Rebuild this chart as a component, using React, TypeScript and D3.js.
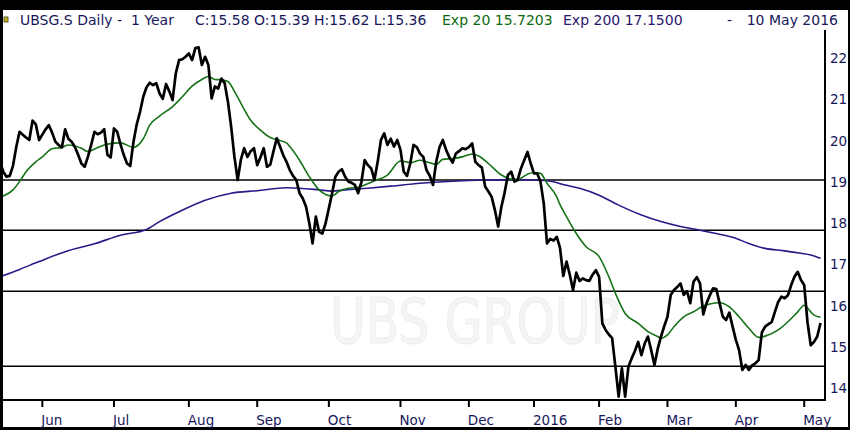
import * as d3 from "d3";

// daily closes, 11 May 2015 .. 10 May 2016 (SIX trading days)
const closes = [
  19.49, 19.25, 19.13, 19.15, 19.4, 19.85, 20.22, 20.15, 20.08, 20.02,
  20.49, 20.4, 20.02, 20.15, 20.28, 20.38, 20.2, 19.98, 19.9, 19.84,
  20.28, 20.05, 19.98, 19.85, 19.66, 19.45, 19.37, 19.61, 19.9, 20.22,
  20.16, 20.2, 20.28, 19.66, 19.6, 20.3, 20.22, 19.92, 19.66, 19.45,
  19.39, 19.98, 20.4, 20.7, 21.07, 21.3, 21.41, 21.35, 21.4, 21.15,
  21.02, 21.38, 21.2, 20.99, 21.64, 21.96, 21.98, 22.04, 22.12, 21.96,
  22.25, 22.27, 21.84, 22.04, 21.84, 21.03, 21.32, 21.27, 21.51, 21.4,
  20.95, 20.34, 19.61, 19.05, 19.55, 19.82, 19.61, 19.75, 19.82, 19.41,
  19.6, 19.82, 19.37, 19.42, 19.75, 20.06, 19.86, 19.65, 19.49, 19.29,
  19.15, 19.05, 18.73, 18.6, 18.4, 18.0, 17.51, 18.16, 17.79, 17.75,
  18.0, 18.36, 18.73, 19.13, 19.25, 19.31, 19.13, 19.01, 18.98, 18.93,
  18.73, 19.0, 19.53, 19.41, 19.33, 19.05, 19.49, 20.02, 20.18, 19.9,
  20.05, 19.86, 20.02, 19.78, 19.25, 19.15, 19.45, 19.9, 19.85, 19.69,
  19.61, 19.29, 19.15, 18.93, 19.5, 19.85, 20.02, 19.78, 19.6, 19.47,
  19.69, 19.75, 19.82, 19.8, 19.85, 19.94, 19.49, 19.41, 19.35, 18.89,
  18.77, 18.64, 18.32, 17.92, 18.4, 18.75, 19.17, 19.25, 19.01, 19.05,
  19.33, 19.53, 19.73, 19.45, 19.21, 19.21, 19.01, 18.48, 17.51, 17.62,
  17.58, 17.67, 17.4, 16.72, 17.07, 16.75, 16.38, 16.8, 16.6, 16.66,
  16.62, 16.6, 16.75, 16.86, 16.7, 15.57, 15.41, 15.3, 15.21, 14.52,
  13.79, 14.48, 13.79, 14.52, 14.72, 14.9, 15.12, 14.8, 15.08, 15.25,
  14.92, 14.56, 14.95, 15.25, 15.5, 15.73, 16.26, 16.38, 16.45, 16.54,
  16.26, 16.35, 16.06, 16.58, 16.69, 16.54, 15.79, 16.06, 16.25, 16.42,
  16.4, 16.06, 15.73, 15.65, 15.83, 15.49, 15.17, 14.92, 14.44, 14.56,
  14.44, 14.55, 14.6, 14.68, 15.35, 15.49, 15.55, 15.6, 15.85, 16.09,
  16.22, 16.18, 16.25, 16.5, 16.7, 16.82, 16.62, 16.5, 15.6, 15.04,
  15.12, 15.25, 15.58,
];

// Exp 20: trading-day index / value
const ema20Days = [
  0, 4, 6, 8, 11, 13, 16, 19, 21, 25, 27, 30, 33, 37, 41, 44, 46, 49, 53, 56,
  59, 62, 64, 66, 68, 70, 72, 74, 77, 80, 83, 85, 88, 89, 92, 95, 98, 102, 104,
  107, 110, 112, 115, 119, 123, 126, 129, 131, 134, 136, 139, 142, 145, 147,
  150, 154, 157, 159, 162, 164, 166, 168, 171, 172, 174, 177, 180, 184, 187,
  189, 192, 196, 199, 202, 203, 205, 207, 210, 213, 216, 218, 221, 224, 227,
  230, 233, 235, 239, 242, 245, 247, 249, 250, 252,
];
const ema20Values = [
  18.63, 18.81, 19.01, 19.25, 19.49, 19.61, 19.81, 19.84, 19.9, 19.82, 19.74,
  19.84, 19.92, 19.95, 19.84, 20.05, 20.38, 20.6, 20.83, 21.07, 21.33, 21.49,
  21.56, 21.49, 21.48, 21.44, 21.2, 20.91, 20.5, 20.26, 20.08, 20.03, 19.95,
  19.86, 19.53, 19.13, 18.81, 18.66, 18.77, 18.85, 18.87, 18.93, 19.03, 19.17,
  19.51, 19.47, 19.53, 19.49, 19.43, 19.55, 19.57, 19.61, 19.68, 19.63, 19.45,
  19.17, 19.07, 19.06, 19.19, 19.23, 19.21, 18.97, 18.64, 18.45, 18.16, 17.75,
  17.43, 17.19, 16.7, 16.3, 15.81, 15.57, 15.37, 15.25, 15.21, 15.29, 15.49,
  15.73, 15.85, 15.99, 16.04, 16.07, 15.97, 15.73, 15.45, 15.23, 15.26, 15.41,
  15.61, 15.85, 16.01, 15.85, 15.77, 15.72,
];

// Exp 200
const ema200Days = [
  0, 6, 12, 20, 29, 37, 45, 49, 55, 63, 71, 79, 88, 92, 98, 102, 106, 113, 120,
  129, 139, 149, 158, 164, 169, 174, 178, 184, 190, 197, 203, 209, 215, 220,
  225, 230, 235, 241, 246, 249, 252,
];
const ema200Values = [
  16.7, 16.88, 17.07, 17.31, 17.5, 17.71, 17.85, 18.04, 18.28, 18.56, 18.73,
  18.79, 18.86, 18.85, 18.81, 18.78, 18.81, 18.85, 18.9, 18.97, 19.02, 19.05,
  19.06, 19.05, 19.02, 18.92, 18.85, 18.68, 18.44, 18.2, 18.04, 17.92, 17.83,
  17.75, 17.66, 17.51, 17.39, 17.33, 17.27, 17.23, 17.15,
];

const levelLines = [19.05, 17.83, 16.35, 14.53];
const priceTicks = [14, 15, 16, 17, 18, 19, 20, 21, 22];
const monthLabels = ["Jun", "Jul", "Aug", "Sep", "Oct", "Nov", "Dec", "2016", "Feb", "Mar", "Apr", "May"];
const holidays = [
  "2015-05-14", "2015-05-25", "2015-12-24", "2015-12-25", "2015-12-31",
  "2016-01-01", "2016-03-25", "2016-03-28", "2016-05-05",
];

const W = 850;
const H = 430;
const NAVY = "#17175c";
const FONT = "'DejaVu Sans', Verdana, sans-serif";

function tradingDays(start: Date, count: number) {
  const fmt = d3.utcFormat("%Y-%m-%d");
  const out: Date[] = [];
  let d = start;
  while (out.length < count) {
    const wd = d.getUTCDay();
    if (wd !== 0 && wd !== 6 && !holidays.includes(fmt(d))) out.push(d);
    d = d3.utcDay.offset(d, 1);
  }
  return out;
}

export default function App() {
  const dates = tradingDays(new Date(Date.UTC(2015, 4, 11)), closes.length);
  const monthTicks = dates
    .map((d, i) => ({ d, i }))
    .filter(({ d, i }) => i > 0 && d.getUTCMonth() !== dates[i - 1].getUTCMonth())
    .map(({ i }) => i);

  const plot = { left: 3, right: 825, top: 30, bottom: 400 };
  const x = d3.scaleLinear().domain([0, closes.length - 1]).range([0, 820.5]);
  const y = d3.scaleLinear().domain([13.71, 22.69]).range([plot.bottom, plot.top]);

  const priceLine = d3
    .line<number>()
    .x((_, i) => x(i))
    .y((v) => y(v));
  const emaLine = d3
    .line<[number, number]>()
    .x((p) => x(p[0]))
    .y((p) => y(p[1]))
    .curve(d3.curveMonotoneX);

  const ema20 = ema20Days.map((d, i) => [d, ema20Values[i]] as [number, number]);
  const ema200 = ema200Days.map((d, i) => [d, ema200Values[i]] as [number, number]);

  return (
    <svg
      width={W}
      height={H}
      style={{ position: "absolute", left: 0, top: 0, fontFamily: FONT }}
    >
      <defs>
        <clipPath id="plotClip">
          <rect x={plot.left} y={plot.top} width={plot.right - plot.left} height={plot.bottom - plot.top} />
        </clipPath>
      </defs>
      <rect width={W} height={H} fill="#000" />
      <rect x={3} y={10} width={845} height={417} fill="#fff" />

      {/* watermark */}
      <text
        x={475}
        y={343}
        textAnchor="middle"
        fontSize={62}
        textLength={290}
        lengthAdjust="spacingAndGlyphs"
        fill="#f5f5f5"
        stroke="#ededed"
        strokeWidth={1}
      >
        UBS GROUP
      </text>

      {/* header */}
      <rect x={4} y={17} width={4} height={5} fill="#c8b820" stroke="#3a3a10" strokeWidth={0.8} />
      <g fontSize={14} fill={NAVY}>
        <text x={20} y={25}>{"UBSG.S Daily -\u00a0 1 Year"}</text>
        <text x={195} y={25}>C:15.58 O:15.39 H:15.62 L:15.36</text>
        <text x={442} y={25} fill="#0d6a10">Exp 20 15.7203</text>
        <text x={563} y={25} fill="#2c176e">Exp 200 17.1500</text>
        <text x={727} y={25}>-</text>
        <text x={838} y={25} textAnchor="end">10 May 2016</text>
      </g>

      {/* support / resistance levels */}
      {levelLines.map((v) => (
        <line key={v} x1={plot.left} x2={plot.right} y1={y(v)} y2={y(v)} stroke="#000" strokeWidth={1.6} />
      ))}

      <g clipPath="url(#plotClip)" fill="none" strokeLinejoin="round">
        <path d={emaLine(ema200) ?? ""} stroke="#2a1888" strokeWidth={1.6} />
        <path d={emaLine(ema20) ?? ""} stroke="#167216" strokeWidth={1.6} />
        <path d={priceLine(closes) ?? ""} stroke="#000" strokeWidth={2.7} />
      </g>

      {/* axes */}
      <line x1={plot.right} x2={plot.right} y1={plot.top} y2={plot.bottom + 1} stroke="#000" strokeWidth={2} />
      <line x1={plot.left} x2={plot.right + 1} y1={plot.bottom} y2={plot.bottom} stroke="#000" strokeWidth={2} />
      {priceTicks.map((t) => (
        <text key={t} x={830} y={y(t)} dy="0.36em" fontSize={13.5} fill={NAVY}>
          {t}
        </text>
      ))}
      {monthTicks.map((i, k) => (
        <g key={i} transform={`translate(${x(i)},0)`}>
          <line y1={plot.bottom} y2={plot.bottom + 7} stroke="#000" strokeWidth={2} />
          <text x={-1} y={425} fontSize={13.5} fill={NAVY}>
            {monthLabels[k]}
          </text>
        </g>
      ))}
    </svg>
  );
}
